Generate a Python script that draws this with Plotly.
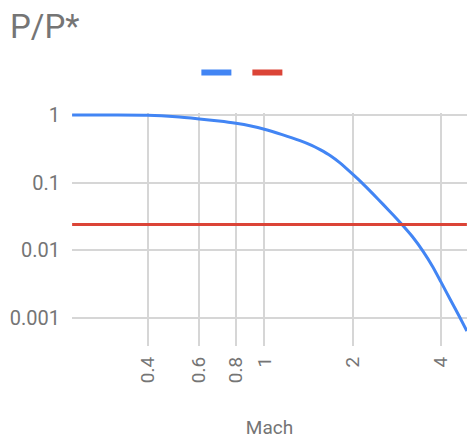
import plotly.graph_objects as go

# Data
mach = [0.221, 0.3, 0.4, 0.5, 0.6, 0.7, 0.8, 0.9, 1.0, 1.15, 1.323, 1.45, 1.549,
        1.68, 1.811, 2.0, 2.148, 2.35, 2.55, 2.75, 2.976, 3.2, 3.473, 3.75,
        4.0, 4.3, 4.643, 4.905]
p_ratio = [1.0, 0.998, 0.99, 0.94, 0.873, 0.815, 0.755, 0.688, 0.616, 0.513,
           0.417, 0.355, 0.307, 0.25, 0.196, 0.1334, 0.1, 0.0676, 0.0469,
           0.0331, 0.0228, 0.0158, 0.0097, 0.0057, 0.0034, 0.00188, 0.00101,
           0.000637]
ref_mach = [0.221, 4.905]
ref_value = [0.024, 0.024]

x_ticks = [0.4, 0.6, 0.8, 1, 2, 4]
x_ticktext = ["0.4", "0.6", "0.8", "1", "2", "4"]
y_ticks = [1, 0.1, 0.01, 0.001]
y_ticktext = ["1", "0.1", "0.01", "0.001"]

BLUE = "#4285F4"
RED = "#DB4437"
GRAY = "#757575"
GRID = "#d6d6d6"

fig = go.Figure()
fig.add_trace(go.Scatter(x=mach, y=p_ratio, mode="lines",
                         line=dict(color=BLUE, width=3, shape="spline",
                                   smoothing=0.6),
                         showlegend=False, hoverinfo="x+y"))
fig.add_trace(go.Scatter(x=ref_mach, y=ref_value, mode="lines",
                         line=dict(color=RED, width=3),
                         showlegend=False, hoverinfo="x+y"))
# legend entries (no labels)
fig.add_trace(go.Scatter(x=[None], y=[None], mode="lines", name="",
                         line=dict(color=BLUE, width=6)))
fig.add_trace(go.Scatter(x=[None], y=[None], mode="lines", name="",
                         line=dict(color=RED, width=6)))

fig.update_layout(
    width=467, height=439,
    margin=dict(l=72, r=0, t=113, b=93),
    paper_bgcolor="white", plot_bgcolor="white",
    font=dict(family="Roboto, Arial, sans-serif", size=19, color=GRAY),
    title=dict(text="P/P*", x=10/467, xanchor="left", xref="container",
               y=1 - 15/439, yanchor="top", yref="container",
               font=dict(size=33, color=GRAY)),
    legend=dict(orientation="h", x=0.444, xanchor="center", y=1.172,
                yanchor="middle", bgcolor="rgba(0,0,0,0)",
                entrywidth=6, entrywidthmode="pixels",
                font=dict(size=14)),
    xaxis=dict(type="log", range=[-0.656, 0.691],
               tickvals=x_ticks, ticktext=x_ticktext, tickangle=-90,
               showgrid=True, gridcolor=GRID, gridwidth=1.5,
               zeroline=False, showline=False, ticks="",
               ticklabelstandoff=6,
               title=dict(text="Mach", font=dict(size=19, color=GRAY),
                          standoff=44)),
    yaxis=dict(type="log", range=[-3.417, 0.03],
               tickvals=y_ticks, ticktext=y_ticktext,
               tickfont=dict(size=20),
               showgrid=True, gridcolor=GRID, gridwidth=1.5,
               zeroline=False, showline=False, ticks="",
               ticklabelstandoff=11),
)

fig.write_html(
    "out.html",
    config={"displayModeBar": False},
    post_script="document.body.style.margin='0';"
                "document.body.style.overflow='hidden';",
)
